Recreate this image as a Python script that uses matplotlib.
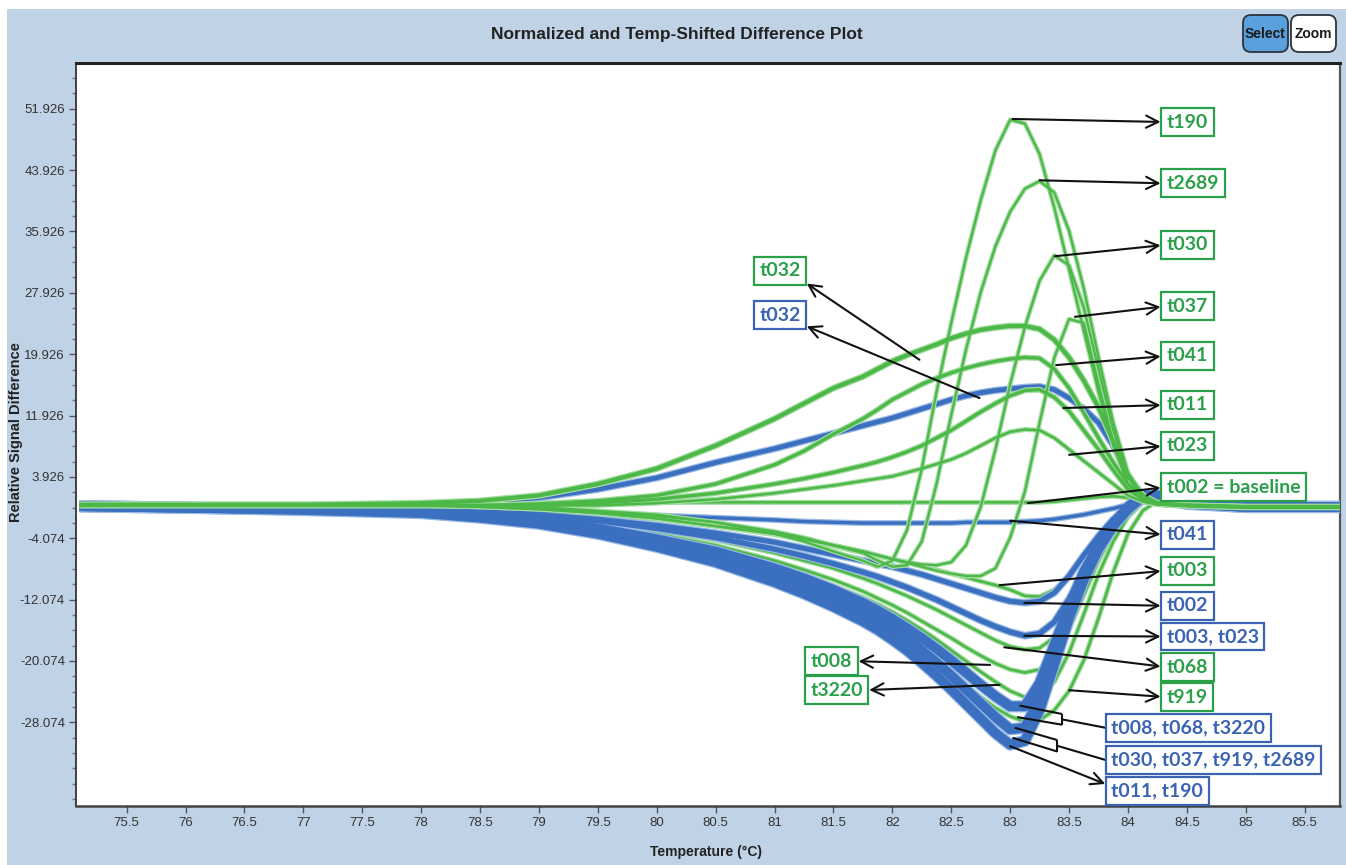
import matplotlib
matplotlib.use("Agg")
import matplotlib.pyplot as plt
from matplotlib.patches import Rectangle, FancyBboxPatch
from matplotlib.transforms import IdentityTransform
import numpy as np

# ---- data ----

temps = [75.1, 76.0, 77.0, 78.0, 78.5, 79.0, 79.5, 80.0, 80.5, 81.0, 81.25, 81.5,
         81.75, 81.875, 82.0, 82.125, 82.25, 82.375, 82.5, 82.625, 82.75, 82.875, 83.0,
         83.125, 83.25, 83.375, 83.5, 83.625, 83.75, 83.875, 84.0, 84.125, 84.25,
         84.5, 85.0, 85.8]

# green curves
g_t190 = [0.3, 0.3, 0.2, 0.3, 0.2, 0.0, -0.5, -1.0, -2.0, -3.5, -4.5, -5.8,
          -7.0, -7.8, -7.0, -3.0, 5.0, 15.0, 24.0, 32.5, 40.0, 46.5, 50.5,
          50.0, 46.0, 39.0, 31.0, 23.0, 15.0, 8.0, 3.0, 1.0, 0.5,
          0.2, 0.0, 0.0]
g_t2689 = [0.3, 0.3, 0.2, 0.2, 0.1, -0.2, -0.6, -1.2, -2.0, -3.2, -4.0, -5.0,
           -6.0, -7.0, -7.8, -7.6, -4.5, 3.0, 12.0, 20.5, 28.0, 34.0, 38.5,
           41.5, 42.5, 41.0, 36.0, 28.5, 19.5, 11.0, 4.5, 1.5, 0.5,
           0.2, 0.0, 0.0]
g_t030 = [0.3, 0.3, 0.2, 0.2, 0.0, -0.3, -0.8, -1.5, -2.5, -3.5, -4.2, -5.0,
          -5.8, -6.3, -6.8, -7.2, -7.5, -7.6, -7.2, -5.0, 0.0, 7.5, 16.0,
          23.5, 29.5, 32.8, 31.5, 26.0, 18.0, 10.0, 4.0, 1.2, 0.4,
          0.2, 0.0, 0.0]
g_t037 = [0.3, 0.3, 0.2, 0.2, 0.0, -0.3, -0.8, -1.5, -2.5, -3.5, -4.2, -5.0,
          -5.8, -6.3, -6.8, -7.3, -7.8, -8.3, -8.7, -9.0, -9.0, -8.0, -4.0,
          2.0, 11.0, 19.5, 24.5, 24.0, 16.0, 8.5, 3.0, 1.0, 0.4,
          0.2, 0.0, 0.0]
g_t032 = [0.3, 0.3, 0.3, 0.5, 0.8, 1.5, 3.0, 5.0, 8.0, 11.5, 13.5, 15.5,
          17.0, 18.0, 19.0, 19.8, 20.5, 21.2, 22.0, 22.6, 23.1, 23.4, 23.6,
          23.6, 23.2, 21.8, 19.5, 16.5, 13.0, 8.5, 4.0, 1.5, 0.5,
          0.2, 0.0, 0.0]
g_t041 = [0.2, 0.2, 0.2, 0.2, 0.2, 0.4, 0.8, 1.5, 3.0, 5.5, 7.3, 9.5,
          11.5, 12.7, 14.0, 15.0, 16.0, 16.8, 17.5, 18.1, 18.6, 19.0, 19.3,
          19.5, 19.4, 18.0, 15.5, 12.3, 9.0, 5.8, 3.0, 1.2, 0.4,
          0.2, 0.0, 0.0]
g_t011 = [0.2, 0.2, 0.2, 0.2, 0.2, 0.2, 0.5, 1.0, 1.8, 3.0, 3.7, 4.5,
          5.4, 5.9, 6.5, 7.2, 8.0, 9.0, 10.0, 11.2, 12.4, 13.5, 14.5,
          15.2, 15.3, 14.3, 12.5, 10.0, 7.5, 4.8, 2.3, 1.0, 0.4,
          0.2, 0.0, 0.0]
g_t023 = [0.2, 0.2, 0.2, 0.2, 0.2, 0.2, 0.2, 0.5, 1.0, 1.8, 2.3, 2.8,
          3.4, 3.7, 4.0, 4.5, 5.0, 5.6, 6.2, 7.0, 8.0, 9.0, 9.8,
          10.1, 10.0, 9.0, 7.5, 6.0, 4.5, 3.0, 1.5, 0.7, 0.3,
          0.2, 0.0, 0.0]
g_t002 = [0.3, 0.3, 0.3, 0.4, 0.5, 0.6, 0.6, 0.6, 0.6, 0.6, 0.6, 0.6,
          0.6, 0.6, 0.6, 0.6, 0.6, 0.6, 0.6, 0.6, 0.6, 0.6, 0.6,
          0.6, 0.6, 0.7, 0.9, 1.1, 1.3, 1.4, 1.2, 0.8, 0.5,
          0.3, 0.2, 0.2]
g_t003 = [0.2, 0.2, 0.1, 0.0, -0.2, -0.5, -1.0, -1.6, -2.5, -3.6, -4.3, -5.1,
          -6.0, -6.4, -6.8, -7.2, -7.7, -8.2, -8.7, -9.2, -9.7, -10.2, -10.8,
          -11.6, -11.7, -10.8, -9.0, -6.5, -3.8, -1.6, 0.0, 0.8, 0.6,
          0.2, 0.0, 0.0]
g_t068 = [0.1, 0.0, -0.1, -0.3, -0.6, -1.1, -1.9, -3.0, -4.3, -6.0, -7.0, -8.0,
          -9.3, -10.0, -10.8, -11.6, -12.5, -13.4, -14.4, -15.4, -16.4, -17.4, -18.2,
          -18.6, -18.4, -17.0, -14.0, -10.0, -6.0, -2.8, -0.5, 1.0, 1.0,
          0.3, 0.0, 0.0]
g_t008 = [0.1, 0.0, -0.1, -0.4, -0.8, -1.4, -2.3, -3.5, -5.0, -7.0, -8.2, -9.5,
          -11.0, -11.9, -12.8, -13.8, -14.9, -16.0, -17.1, -18.3, -19.4, -20.4, -21.2,
          -21.6, -21.2, -19.5, -16.0, -11.5, -7.0, -3.3, -0.8, 0.8, 1.0,
          0.3, 0.0, 0.0]
g_t3220 = [0.1, 0.0, -0.1, -0.4, -0.8, -1.5, -2.5, -3.8, -5.5, -7.6, -8.9, -10.3,
           -11.8, -12.7, -13.7, -14.8, -16.0, -17.3, -18.7, -20.1, -21.5, -22.8, -24.0,
           -24.8, -24.6, -22.8, -19.0, -14.0, -8.8, -4.5, -1.3, 0.6, 1.0,
           0.3, 0.0, 0.0]
g_t919 = [0.1, 0.0, -0.1, -0.4, -0.9, -1.6, -2.7, -4.2, -6.2, -8.7, -10.2, -11.8,
          -13.6, -14.6, -15.8, -17.1, -18.5, -20.0, -21.6, -23.2, -24.8, -26.2, -27.3,
          -28.0, -27.8, -26.5, -24.0, -20.0, -14.5, -8.5, -3.5, -0.5, 0.8,
          0.3, 0.0, 0.0]

# blue curves
b_t032 = [0.2, 0.2, 0.2, 0.3, 0.6, 1.2, 2.3, 3.8, 5.8, 7.6, 8.6, 9.6,
          10.6, 11.1, 11.6, 12.2, 12.8, 13.4, 14.0, 14.5, 14.9, 15.2, 15.4,
          15.6, 15.7, 15.3, 14.2, 12.8, 11.0, 8.0, 4.0, 1.5, 0.5,
          0.2, 0.0, 0.0]
b_t041 = [0.0, -0.1, -0.1, -0.2, -0.3, -0.5, -0.8, -1.1, -1.4, -1.7, -1.9, -2.0,
          -2.1, -2.1, -2.1, -2.1, -2.1, -2.1, -2.1, -2.0, -2.0, -2.0, -2.0,
          -1.9, -1.8, -1.6, -1.3, -1.0, -0.6, -0.2, 0.3, 0.7, 0.6,
          0.3, 0.0, 0.0]
b_t002 = [0.1, 0.0, -0.1, -0.3, -0.6, -1.0, -1.6, -2.4, -3.4, -4.6, -5.4, -6.2,
          -7.0, -7.4, -7.8, -8.3, -8.8, -9.4, -10.0, -10.6, -11.2, -11.8, -12.3,
          -12.5, -12.3, -11.2, -9.0, -6.3, -3.8, -1.6, 0.0, 1.0, 0.8,
          0.3, 0.0, 0.0]
b_t003_t023 = [0.1, 0.0, -0.1, -0.3, -0.6, -1.1, -1.8, -2.8, -4.0, -5.5, -6.4, -7.4,
               -8.5, -9.1, -9.8, -10.5, -11.3, -12.1, -13.0, -13.9, -14.8, -15.6, -16.3,
               -16.8, -16.5, -15.0, -12.0, -8.5, -5.0, -2.2, 0.0, 1.2, 1.0,
               0.3, 0.0, 0.0]
b_t008_t068_t3220 = [0.1, -0.1, -0.3, -0.6, -1.0, -1.7, -2.8, -4.2, -5.8, -8.0, -9.3, -10.8,
                     -12.5, -13.5, -14.6, -15.8, -17.1, -18.5, -20.0, -21.6, -23.2, -24.7, -26.0,
                     -26.0, -23.0, -18.0, -13.0, -8.5, -5.0, -2.2, 0.0, 1.5, 1.3,
                     0.4, 0.0, 0.0]
b_t030_t037_t919_t2689 = [0.1, -0.1, -0.3, -0.7, -1.2, -1.9, -3.1, -4.6, -6.4, -8.8, -10.2, -11.8,
                          -13.6, -14.7, -15.9, -17.2, -18.7, -20.3, -22.0, -23.8, -25.6, -27.4, -29.0,
                          -28.8, -25.0, -19.5, -13.8, -9.0, -5.2, -2.3, -0.2, 1.5, 1.5,
                          0.5, 0.0, 0.0]
b_t011_t190 = [0.1, -0.1, -0.4, -0.8, -1.4, -2.2, -3.5, -5.2, -7.2, -9.8, -11.3, -13.0,
               -14.9, -16.0, -17.3, -18.7, -20.3, -22.0, -23.8, -25.7, -27.6, -29.5, -31.0,
               -30.5, -26.5, -20.5, -14.5, -9.5, -5.5, -2.5, -0.3, 1.3, 1.5,
               0.5, 0.0, 0.0]

x_ticks = [75.5, 76, 76.5, 77, 77.5, 78, 78.5, 79, 79.5, 80, 80.5,
           81, 81.5, 82, 82.5, 83, 83.5, 84, 84.5, 85, 85.5]
x_tick_labels = ["75.5", "76", "76.5", "77", "77.5", "78", "78.5", "79", "79.5", "80", "80.5",
                 "81", "81.5", "82", "82.5", "83", "83.5", "84", "84.5", "85", "85.5"]
y_ticks = [51.926, 43.926, 35.926, 27.926, 19.926, 11.926, 3.926,
           -4.074, -12.074, -20.074, -28.074]
y_tick_labels = ["51.926", "43.926", "35.926", "27.926", "19.926", "11.926", "3.926",
                 "-4.074", "-12.074", "-20.074", "-28.074"]

# ---- style ----
BG = "#c0d3e6"
GREEN = "#4cb848"
GREEN_LIGHT = "#a4dca2"
BLUE = "#3b6fc0"
BLUE_LIGHT = "#98b9e4"
LBL_GREEN = "#2ba04a"
LBL_BLUE = "#3a63b3"
ARIAL = ["Liberation Sans", "DejaVu Sans"]
LABEL_FONT = ["Lato", "DejaVu Sans"]

fig = plt.figure(figsize=(13.46, 8.65), dpi=100)
fig.patch.set_facecolor("white")
fig.patches.append(Rectangle((7 / 1346, 0), 1, 1 - 9 / 865, transform=fig.transFigure,
                             facecolor=BG, edgecolor="none", zorder=-10))

ax = fig.add_axes([76 / 1346, 1 - 806 / 865, (1340 - 76) / 1346, (806 - 63) / 865])
ax.set_facecolor("white")
ax.set_xlim(75.07, 85.8)
ax.set_ylim(-39.0, 57.9)


def draw(vals, color, light, lw, z):
    ax.plot(temps, vals, color=light, lw=lw + 1.8, solid_capstyle="butt", zorder=z)
    ax.plot(temps, vals, color=color, lw=lw, solid_capstyle="butt", zorder=z + 0.1)


# negative green curves and baseline
for vals in [g_t002, g_t003, g_t068, g_t008, g_t3220, g_t919]:
    draw(vals, GREEN, GREEN_LIGHT, 1.8, 2)
# blue curves
for vals, lw in [(b_t041, 2.4), (b_t002, 3.6), (b_t003_t023, 3.8),
                 (b_t008_t068_t3220, 7.0), (b_t030_t037_t919_t2689, 7.0),
                 (b_t011_t190, 7.0), (b_t032, 3.4)]:
    draw(vals, BLUE, BLUE_LIGHT, lw, 3)
# positive green curves
for vals, lw in [(g_t032, 3.0), (g_t041, 2.4), (g_t011, 2.4), (g_t023, 1.8),
                 (g_t190, 1.6), (g_t2689, 1.6), (g_t030, 1.6), (g_t037, 1.6)]:
    draw(vals, GREEN, GREEN_LIGHT, lw, 4)

# ---- axes look ----
ax.set_xticks(x_ticks)
ax.set_xticklabels(x_tick_labels)
ax.set_yticks(y_ticks)
ax.set_yticklabels(y_tick_labels)
ax.set_yticks(np.arange(-38.074, 57.0, 2.0), minor=True)
ax.tick_params(axis="both", which="major", direction="out", length=5, width=1,
               color="#555555", labelsize=9.5, labelcolor="#333333", pad=3)
ax.tick_params(axis="y", which="minor", direction="out", length=3, width=1, color="#777777")
for lbl in ax.get_xticklabels() + ax.get_yticklabels():
    lbl.set_family(ARIAL)
ax.spines["top"].set_linewidth(2.2)
ax.spines["top"].set_color("#222222")
ax.spines["left"].set_linewidth(1.3)
ax.spines["left"].set_color("#333333")
ax.spines["bottom"].set_linewidth(1.8)
ax.spines["bottom"].set_color("#444444")
ax.spines["right"].set_linewidth(1.6)
ax.spines["right"].set_color("#555555")

fig.text(677 / 1346, 1 - 35 / 865, "Normalized and Temp-Shifted Difference Plot",
         ha="center", va="center", fontsize=12.5, fontweight="bold", family=ARIAL, color="#222222")
fig.text(16 / 1346, 1 - 432 / 865, "Relative Signal Difference", rotation=90,
         ha="center", va="center", fontsize=10.5, fontweight="bold", family=ARIAL, color="#222222")
fig.text(706 / 1346, 1 - 852 / 865, "Temperature (\u00b0C)", ha="center", va="center",
         fontsize=10, fontweight="bold", family=ARIAL, color="#222222")

# Select / Zoom buttons
for x0, label, face in [(1243, "Select", "#5aa0dc"), (1291, "Zoom", "white")]:
    fig.patches.append(FancyBboxPatch((x0, 865 - 52), 45, 37,
                                      boxstyle="round,pad=0,rounding_size=8",
                                      transform=IdentityTransform(), facecolor=face,
                                      edgecolor="#2b3440", lw=1.3, zorder=5))
    fig.text((x0 + 22.5) / 1346, 1 - 34 / 865, label, ha="center", va="center",
             fontsize=10, fontweight="bold", family=ARIAL, color="#1a1a1a", zorder=6)

# ---- callout labels ----
arrow_kw = dict(arrowstyle="<-", color="#111111", lw=1.5, mutation_scale=22,
                shrinkA=0, shrinkB=0)
LBL_SIZE = 14
BOX = "square,pad=0.28"


def label(text, tip, pos, color, ha="left", relpos=(0, 0.5)):
    ax.annotate(text, xy=tip, xytext=pos, ha=ha, va="center", fontsize=LBL_SIZE,
                fontweight="bold", family=LABEL_FONT, color=color, zorder=10,
                bbox=dict(boxstyle=BOX, fc="white", ec=color, lw=1.6),
                arrowprops=dict(arrow_kw, relpos=relpos))


label("t190", (83.02, 50.6), (84.33, 50.2), LBL_GREEN)
label("t2689", (83.25, 42.6), (84.33, 42.2), LBL_GREEN)
label("t030", (83.38, 32.7), (84.33, 34.2), LBL_GREEN)
label("t037", (83.55, 24.8), (84.33, 26.2), LBL_GREEN)
label("t041", (83.39, 18.5), (84.33, 19.7), LBL_GREEN)
label("t011", (83.45, 12.9), (84.33, 13.3), LBL_GREEN)
label("t023", (83.50, 6.8), (84.33, 8.0), LBL_GREEN)
label("t002 = baseline", (83.15, 0.5), (84.33, 2.6), LBL_GREEN)
label("t041", (83.0, -1.8), (84.33, -3.65), LBL_BLUE)
label("t003", (82.91, -10.2), (84.33, -8.3), LBL_GREEN)
label("t002", (83.12, -12.5), (84.33, -12.9), LBL_BLUE)
label("t003, t023", (83.12, -16.8), (84.33, -16.9), LBL_BLUE)
label("t068", (82.95, -18.3), (84.33, -20.9), LBL_GREEN)
label("t919", (83.50, -23.9), (84.33, -24.8), LBL_GREEN)
label("t011, t190", (83.0, -31.2), (83.86, -37.0), LBL_BLUE, relpos=(0, 0.75))

label("t032", (82.23, 19.2), (81.22, 30.8), LBL_GREEN, ha="right", relpos=(1, 0))
label("t032", (82.74, 14.2), (81.22, 25.0), LBL_BLUE, ha="right", relpos=(1, 0))
label("t008", (82.83, -20.6), (81.66, -20.1), LBL_GREEN, ha="right", relpos=(1, 0.5))
label("t3220", (82.91, -23.2), (81.75, -23.9), LBL_GREEN, ha="right", relpos=(1, 0.5))

# grouped blue labels with bracket connectors
line_kw = dict(color="#111111", lw=1.5, zorder=9, solid_capstyle="butt")
for text, tips, bx, by, pos in [
        ("t008, t068, t3220", [(83.08, -25.9), (83.06, -27.4)], 83.44, (-27.0, -28.4), (83.86, -28.8)),
        ("t030, t037, t919, t2689", [(83.04, -28.8), (83.02, -30.1)], 83.40, (-30.4, -31.9), (83.86, -33.0))]:
    ax.text(pos[0], pos[1], text, ha="left", va="center", fontsize=LBL_SIZE, fontweight="bold",
            family=LABEL_FONT, color=LBL_BLUE, zorder=10,
            bbox=dict(boxstyle=BOX, fc="white", ec=LBL_BLUE, lw=1.6))
    ax.plot([tips[0][0], bx], [tips[0][1], by[0]], **line_kw)
    ax.plot([tips[1][0], bx], [tips[1][1], by[1]], **line_kw)
    ax.plot([bx, bx], [by[0], by[1]], **line_kw)
    ax.plot([bx, pos[0] - 0.05], [(by[0] + by[1]) / 2, pos[1]], **line_kw)

fig.savefig("out.png", dpi=100, facecolor=fig.get_facecolor())
